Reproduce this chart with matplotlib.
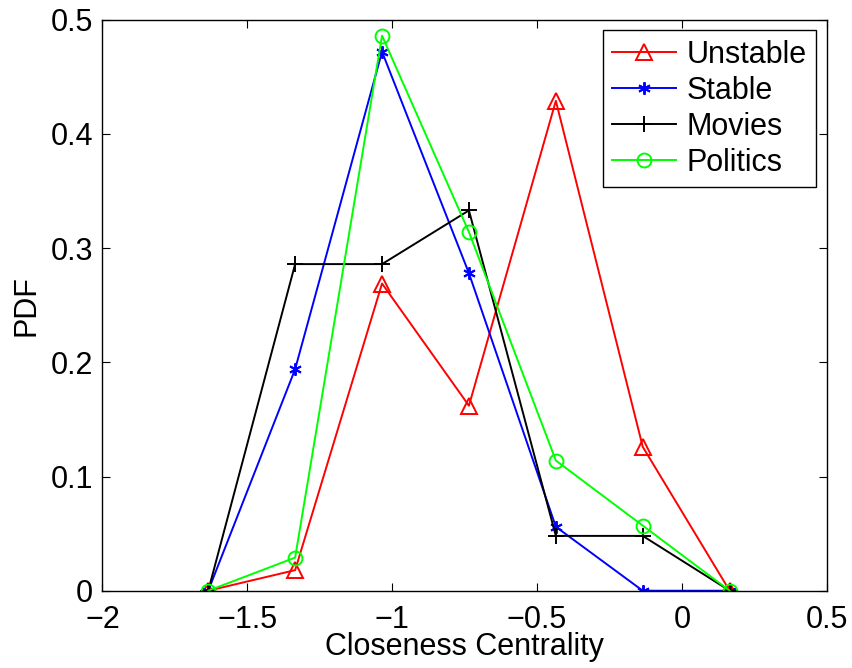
import matplotlib.pyplot as plt
import numpy as np

# closeness centrality bins and PDF values
x = [-1.635, -1.335, -1.035, -0.735, -0.435, -0.135, 0.165]
unstable = [0.0, 0.018, 0.269, 0.162, 0.429, 0.126, 0.0]
stable = [0.0, 0.194, 0.472, 0.278, 0.056, 0.0, 0.0]
movies = [0.0, 0.286, 0.286, 0.333, 0.048, 0.048, 0.0]
politics = [0.0, 0.029, 0.486, 0.314, 0.114, 0.057, 0.0]

xticks = [-2, -1.5, -1, -0.5, 0, 0.5]
yticks = [0, 0.1, 0.2, 0.3, 0.4, 0.5]

plt.rcParams['font.family'] = ['Liberation Sans', 'DejaVu Sans']
plt.rcParams['axes.unicode_minus'] = True

fig = plt.figure(figsize=(8.52, 6.68), dpi=100)
ax = fig.add_axes([0.1203, 0.1157, 0.850, 0.8548])

fs = 22
lw = 1.4
ax.plot(x, unstable, color='r', marker='^', mfc='none', ms=11, mew=1.4, lw=lw, label='Unstable')
ax.plot(x, stable, color='b', marker=(6, 2, 0), ms=9, mew=1.4, lw=lw, label='Stable')
ax.plot(x, movies, color='k', marker='+', ms=12, mew=1.4, lw=lw, label='Movies')
ax.plot(x, politics, color='#00ff00', marker='o', mfc='none', ms=10, mew=1.4, lw=lw, label='Politics')

ax.set_xlim(-2, 0.5)
ax.set_ylim(0, 0.5)
ax.set_xticks(xticks)
ax.set_yticks(yticks)
ax.set_xticklabels(['\u22122', '\u22121.5', '\u22121', '\u22120.5', '0', '0.5'])
ax.set_yticklabels(['0', '0.1', '0.2', '0.3', '0.4', '0.5'])
ax.tick_params(direction='in', top=True, right=True, labelsize=fs, length=6, width=0.8)
ax.tick_params(axis='x', pad=10)
ax.tick_params(axis='y', pad=7)
for s in ax.spines.values():
    s.set_linewidth(1.0)

ax.set_xlabel('Closeness Centrality', fontsize=fs, labelpad=-2)
ax.set_ylabel('PDF', fontsize=fs, labelpad=6)

leg = ax.legend(loc='upper right', fontsize=fs, fancybox=False, edgecolor='k',
                framealpha=1, borderaxespad=0.35, handlelength=2.1,
                labelspacing=0.2, borderpad=0.3, handletextpad=0.35)
leg.get_frame().set_linewidth(1.0)

fig.savefig('out.png', dpi=100)
